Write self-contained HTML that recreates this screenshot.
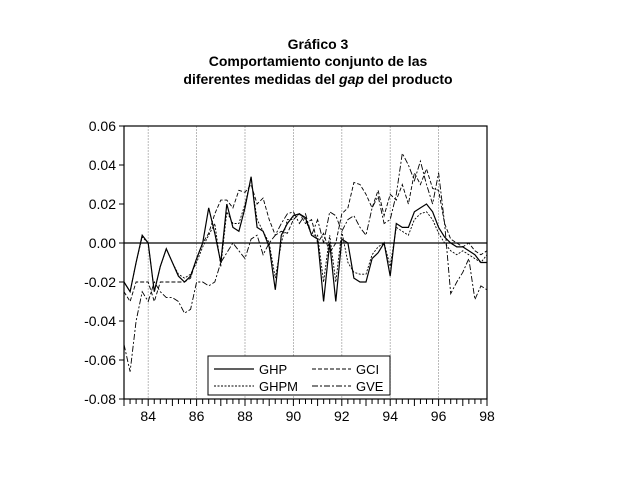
<!DOCTYPE html>
<html><head><meta charset="utf-8"><style>
body{margin:0;background:#fff;width:623px;height:483px;overflow:hidden;font-family:"Liberation Sans",sans-serif}
</style></head><body>
<svg width="623" height="483" font-family="Liberation Sans, sans-serif">
<g font-weight="bold" font-size="14" text-anchor="middle" fill="#000">
<text x="318" y="49">Gráfico 3</text>
<text x="318" y="66">Comportamiento conjunto de las</text>
<text x="318" y="84">diferentes medidas del <tspan font-style="italic">gap</tspan> del producto</text>
</g>
<g id="grid"></g>
<g id="series"></g>
<rect x="124" y="126" width="363" height="273" fill="none" stroke="#000" stroke-width="1.2"/>
<g id="axes"></g>
<g>
<rect x="208" y="356" width="182" height="39" fill="#fff" stroke="#000" stroke-width="1"/>
<line x1="214" y1="369" x2="254" y2="369" stroke="#000" stroke-width="1.2"/>
<text x="259" y="374" font-size="13">GHP</text>
<line x1="312" y1="369" x2="351" y2="369" stroke="#000" stroke-dasharray="4,2"/>
<text x="356" y="374" font-size="13">GCI</text>
<line x1="214" y1="386" x2="254" y2="386" stroke="#000" stroke-dasharray="2,1.5"/>
<text x="259" y="391" font-size="13">GHPM</text>
<line x1="312" y1="386" x2="351" y2="386" stroke="#000" stroke-dasharray="6,2,2,2"/>
<text x="356" y="391" font-size="13">GVE</text>
</g>
</svg>
<script>
const yTicks=[0.06,0.04,0.02,0.00,-0.02,-0.04,-0.06,-0.08];
const xLabels=[84,86,88,90,92,94,96,98];
const startYear=1983;
const ghp=[-0.02,-0.025,-0.01,0.004,0.0,-0.025,-0.012,-0.003,-0.01,-0.017,-0.02,-0.017,-0.008,0.0,0.018,0.005,-0.01,0.02,0.008,0.006,0.018,0.034,0.008,0.006,-0.002,-0.024,0.004,0.01,0.014,0.015,0.013,0.004,0.002,-0.03,0.0,-0.03,0.002,0.0,-0.018,-0.02,-0.02,-0.008,-0.005,0.0,-0.017,0.01,0.008,0.008,0.016,0.018,0.02,0.016,0.008,0.003,0.0,-0.002,-0.002,-0.004,-0.006,-0.01,-0.01];
const gci=[-0.025,-0.03,-0.02,-0.02,-0.02,-0.03,-0.02,-0.02,-0.02,-0.02,-0.02,-0.018,-0.008,0.0,0.005,0.015,0.022,0.022,0.018,0.027,0.026,0.03,0.02,0.023,0.012,0.004,0.006,0.005,0.012,0.015,0.01,0.012,0.0,0.005,-0.005,0.0,0.015,0.018,0.031,0.03,0.025,0.018,0.027,0.014,0.025,0.022,0.03,0.02,0.036,0.03,0.038,0.028,0.027,0.01,0.002,0.0,-0.002,0.0,-0.004,-0.006,-0.004];
const ghpm=[-0.02,-0.025,-0.01,0.003,0.0,-0.025,-0.012,-0.003,-0.01,-0.016,-0.018,-0.016,-0.01,-0.002,0.004,0.01,-0.012,0.016,0.01,0.01,0.02,0.033,0.012,0.006,0.0,-0.018,0.0,0.012,0.012,0.015,0.012,0.004,0.004,-0.02,0.004,-0.02,0.006,-0.01,-0.015,-0.016,-0.016,-0.006,-0.002,0.0,-0.012,0.008,0.006,0.004,0.012,0.015,0.016,0.012,0.005,0.0,-0.004,-0.006,-0.004,-0.006,-0.008,-0.01,-0.006];
const gve=[-0.052,-0.066,-0.04,-0.025,-0.03,-0.02,-0.025,-0.028,-0.028,-0.03,-0.036,-0.034,-0.02,-0.02,-0.022,-0.02,-0.01,-0.005,0.0,-0.004,-0.008,0.002,0.004,-0.006,0.0,0.004,0.01,0.015,0.016,0.01,0.015,0.004,0.012,0.0,0.016,0.014,0.006,0.012,0.014,0.008,0.004,0.018,0.024,0.01,0.012,0.025,0.046,0.04,0.032,0.042,0.03,0.02,0.036,0.01,-0.026,-0.02,-0.015,-0.008,-0.029,-0.022,-0.024];
const NS="http://www.w3.org/2000/svg";
const X0=124,X1=487,Y0=126,Y1=399;
function xs(t){return X0+(t-startYear)/15*(X1-X0);}
function ys(v){return Y0+(0.06-v)/0.14*(Y1-Y0);}
function mk(tag,attrs,parent){const e=document.createElementNS(NS,tag);for(const k in attrs)e.setAttribute(k,attrs[k]);document.getElementById(parent).appendChild(e);return e;}
xLabels.forEach(l=>{if(l<98){const g=mk('line',{x1:xs(1900+l),x2:xs(1900+l),y1:Y0,y2:Y1,stroke:'#aaa','stroke-dasharray':'2,1','stroke-width':0.8},'grid');

}});
const z=mk('line',{x1:X0,x2:X1,y1:ys(0),y2:ys(0),stroke:'#000','stroke-width':1.2},'grid');


yTicks.forEach(v=>{const t=mk('line',{x1:X0-5,x2:X0,y1:ys(v),y2:ys(v),stroke:'#000'},'axes');


const tx=mk('text',{x:X0-8,y:ys(v)+5,'font-size':14,'text-anchor':'end'},'axes');
tx.textContent=v.toFixed(2);

});
for(let q=0;q<=60;q++){const x=xs(startYear+q/4);const big=q%4===0;
const t=mk('line',{x1:x,x2:x,y1:Y1,y2:Y1+(big?7:5),stroke:'#000'},'axes');

}
xLabels.forEach(l=>{const tx=mk('text',{x:xs(1900+l),y:Y1+22,'font-size':14,'text-anchor':'middle'},'axes');
tx.textContent=l;

});
function line(data,dash,name,w){const p=data.map((v,i)=>(i?'L':'M')+xs(startYear+i/4).toFixed(1)+','+ys(v).toFixed(1)).join('');
const e=mk('path',{d:p,fill:'none',stroke:'#000','stroke-width':w,'stroke-dasharray':dash},'series');

}
line(gve,'6,2,2,2','series-gve',0.9);
line(gci,'4,2','series-gci',0.9);
line(ghpm,'2,1.5','series-ghpm',0.9);
line(ghp,'none','series-ghp',1.2);
</script>
</body></html>
